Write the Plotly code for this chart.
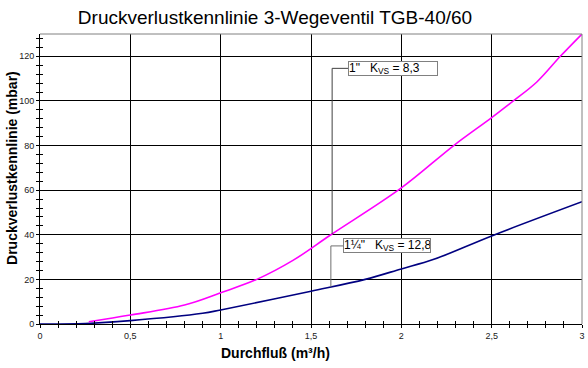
import numpy as np
import plotly.graph_objects as go

# Data
flow_1 = [0.27, 0.5, 0.8, 1.0, 1.2, 1.4, 1.61, 2.0, 2.29, 2.5, 2.62, 2.75, 2.88, 3.0]
dp_1 = [1.0, 4.0, 8.5, 14.0, 20.0, 28.5, 40.0, 61.0, 80.0, 92.5, 100.0, 108.5, 120.0, 130.0]
flow_2 = [0.0, 0.25, 0.5, 0.9, 1.0, 1.5, 1.8, 2.0, 2.18, 2.5, 3.0]
dp_2 = [0.0, 0.2, 1.5, 4.8, 6.3, 14.7, 20.0, 24.7, 29.0, 39.5, 54.8]

label_1 = "1\"\u00a0\u00a0\u00a0K<sub>VS</sub> = 8,3"
label_2 = "1¼\"\u00a0\u00a0\u00a0K<sub>VS</sub> = 12,8"

x_ticks = [0, 0.5, 1, 1.5, 2, 2.5, 3]
x_ticktext = ["0", "0,5", "1", "1,5", "2", "2,5", "3"]
y_ticks = [0, 20, 40, 60, 80, 100, 120]

title = "Druckverlustkennlinie 3-Wegeventil TGB-40/60"
x_title = "Durchfluß (m³/h)"
y_title = "Druckverlustkennlinie (mbar)"

FONT = "Liberation Sans, Arial, sans-serif"

fig = go.Figure()
fig.add_trace(go.Scatter(x=flow_2, y=dp_2, mode="lines",
                         line=dict(color="#000080", width=1.6, shape="spline", smoothing=1.0),
                         hoverinfo="skip", showlegend=False))
fig.add_trace(go.Scatter(x=flow_1, y=dp_1, mode="lines",
                         line=dict(color="#FF00FF", width=1.6, shape="spline", smoothing=1.0),
                         hoverinfo="skip", showlegend=False))
# invisible trace for overlay axes (crossing ticks)
fig.add_trace(go.Scatter(x=[None], y=[None], xaxis="x2", yaxis="y2", showlegend=False, hoverinfo="skip"))

# leader lines
lead_x1 = 1.617
lead_y1 = float(np.interp(lead_x1, flow_1, dp_1))
lead_x2 = 1.61
lead_y2 = float(np.interp(lead_x2, flow_2, dp_2))
box1_x, box1_y = 1.705, 114.6
box2_x, box2_y = 1.679, 35.0

fig.add_shape(type="path", xref="x", yref="y",
              path=f"M {lead_x1},{lead_y1} L {lead_x1},{box1_y} L {box1_x},{box1_y}",
              line=dict(color="#404040", width=1))
fig.add_shape(type="path", xref="x", yref="y",
              path=f"M {lead_x2},{lead_y2} L {lead_x2},{box2_y} L {box2_x},{box2_y}",
              line=dict(color="#707070", width=1))

fig.add_annotation(x=box1_x, y=box1_y, xref="x", yref="y", text=label_1, showarrow=False,
                   xanchor="left", yanchor="middle", bgcolor="white", bordercolor="#808080",
                   borderwidth=1, borderpad=0, width=88, height=13, align="left",
                   font=dict(family=FONT, size=12, color="black"))
fig.add_annotation(x=box2_x, y=box2_y, xref="x", yref="y", text=label_2, showarrow=False,
                   xanchor="left", yanchor="middle", bgcolor="white", bordercolor="#808080",
                   borderwidth=1, borderpad=0, width=86, height=13, align="left",
                   font=dict(family=FONT, size=12, color="black"))

fig.add_annotation(x=0.4336, y=-0.10, xref="paper", yref="paper", text=f"<b>{x_title}</b>",
                   showarrow=False, xanchor="center", yanchor="middle",
                   font=dict(family=FONT, size=14, color="black"))
fig.add_annotation(x=-0.0517, y=0.538, xref="paper", yref="paper", text=f"<b>{y_title}</b>",
                   showarrow=False, xanchor="center", yanchor="middle", textangle=-90,
                   font=dict(family=FONT, size=14, color="black"))

axis_common = dict(showline=True, linecolor="black", linewidth=1, gridcolor="black", gridwidth=1,
                   zeroline=False, ticks="outside", ticklen=3, tickcolor="black", automargin=False,
                   tickfont=dict(family=FONT, size=9, color="#202020"))

fig.update_layout(
    width=588, height=368,
    margin=dict(l=40, r=6, t=34, b=44, autoexpand=False),
    paper_bgcolor="white", plot_bgcolor="white",
    title=dict(text=title, x=275 / 588, xref="container", xanchor="center",
               y=1 - 17 / 368, yref="container", yanchor="middle",
               font=dict(family=FONT, size=19, color="black")),
    xaxis=dict(range=[0, 3], tickvals=x_ticks, ticktext=x_ticktext, showgrid=True,
               minor=dict(dtick=0.1, ticks="outside", ticklen=3, tickcolor="black", showgrid=False),
               mirror=False, **axis_common),
    yaxis=dict(range=[0, 130], tickvals=y_ticks, showgrid=True,
               minor=dict(dtick=4, tick0=0, ticks="outside", ticklen=3, tickcolor="black", showgrid=False),
               **axis_common),
    xaxis2=dict(range=[0, 3], overlaying="x", anchor="y", side="bottom", showticklabels=False,
                showgrid=False, zeroline=False, showline=False, tickvals=x_ticks, automargin=False,
                ticks="inside", ticklen=3, tickcolor="black",
                minor=dict(dtick=0.1, ticks="inside", ticklen=3, tickcolor="black", showgrid=False)),
    yaxis2=dict(range=[0, 130], overlaying="y", anchor="x", side="left", showticklabels=False,
                showgrid=False, zeroline=False, showline=False, tickvals=y_ticks, automargin=False,
                ticks="inside", ticklen=3, tickcolor="black",
                minor=dict(dtick=4, tick0=0, ticks="inside", ticklen=3, tickcolor="black", showgrid=False)),
    shapes=list(fig.layout.shapes) + [
        dict(type="line", xref="paper", yref="paper", x0=0, x1=1, y0=1, y1=1,
             line=dict(color="#808080", width=1)),
        dict(type="line", xref="paper", yref="paper", x0=1, x1=1, y0=0, y1=1,
             line=dict(color="#808080", width=1)),
    ],
)

fig.write_html("out.html", config={"displayModeBar": False},
               post_script="document.body.style.margin='0px';")
